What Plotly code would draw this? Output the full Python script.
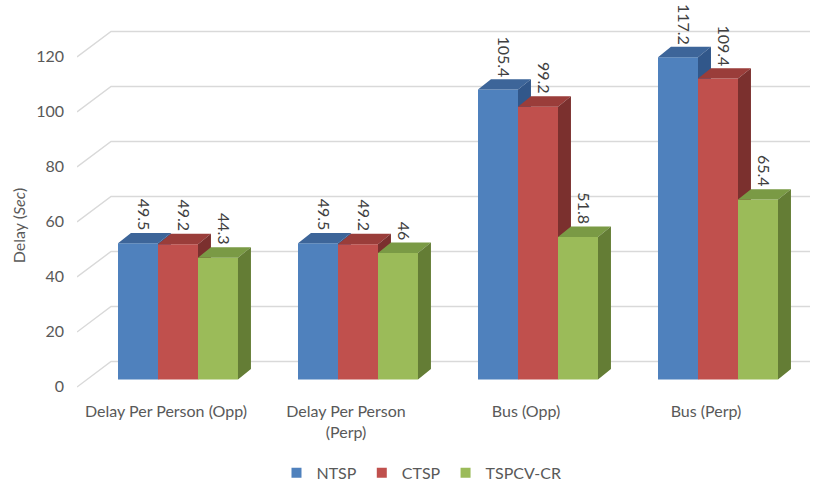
import plotly.graph_objects as go

# ---- data -------------------------------------------------------------
categories = ["Delay Per Person (Opp)", "Delay Per Person<br>(Perp)", "Bus (Opp)", "Bus (Perp)"]
series_names = ["NTSP", "CTSP", "TSPCV-CR"]
ntsp = [49.5, 49.5, 105.4, 117.2]
ctsp = [49.2, 49.2, 99.2, 109.4]
tspcv_cr = [44.3, 46, 51.8, 65.4]
y_ticks = [0, 20, 40, 60, 80, 100, 120]

# ---- styling ----------------------------------------------------------
FONT = "Lato"
front_cols = ["#4F81BD", "#C0504D", "#9BBB59"]
top_cols = ["#3D6599", "#9A3D3A", "#7A9A45"]
side_cols = ["#31578A", "#7B302E", "#647D35"]
grid_col = "#D9D9D9"

# geometry of the pseudo-3D columns (data units)
bar_w = 0.2222          # width of one column, category spacing = 1
depth_x = 0.072         # receding offset, x
depth_y = 3.8           # receding offset, y
wall_back_y = 6.55      # back wall offset above the column front plane
wall_front_y = 2.73     # left wall front edge below the column front plane
x_lo, x_hi = -0.5611, 3.5222
x_wall_back = -0.372
x_wall_end = 3.511
y_lo, y_hi = -3.82, 127.8

series = [ntsp, ctsp, tspcv_cr]

fig = go.Figure()

# back wall + left wall gridlines
gx, gy = [], []
for v in y_ticks:
    gx += [x_lo, x_wall_back, x_wall_end, None]
    gy += [v - wall_front_y, v + wall_back_y, v + wall_back_y, None]
fig.add_trace(go.Scatter(x=gx, y=gy, mode="lines", line=dict(color=grid_col, width=1.4),
                         hoverinfo="skip", showlegend=False))


def face_trace(xs, ys, color):
    return go.Scatter(x=xs, y=ys, mode="lines", fill="toself", fillcolor=color,
                      line=dict(width=0, color=color), hoverinfo="skip", showlegend=False)


for k, vals in enumerate(series):
    off = (k - 1) * bar_w
    fx, fy, tx, ty, sx, sy = [], [], [], [], [], []
    for i, v in enumerate(vals):
        x0 = i + off - bar_w / 2
        x1 = i + off + bar_w / 2
        fx += [x0, x1, x1, x0, x0, None]
        fy += [0, 0, v, v, 0, None]
        tx += [x0, x1, x1 + depth_x, x0 + depth_x, x0, None]
        ty += [v, v, v + depth_y, v + depth_y, v, None]
        sx += [x1, x1 + depth_x, x1 + depth_x, x1, x1, None]
        sy += [0, depth_y, v + depth_y, v, 0, None]
    fig.add_trace(face_trace(fx, fy, front_cols[k]))
    fig.add_trace(face_trace(tx, ty, top_cols[k]))
    fig.add_trace(face_trace(sx, sy, side_cols[k]))

# legend entries
for k, name in enumerate(series_names):
    fig.add_trace(go.Scatter(x=[None], y=[None], mode="markers", name=name,
                             marker=dict(symbol="square", size=10, color=front_cols[k])))

# value labels above each column top
for k, vals in enumerate(series):
    off = (k - 1) * bar_w
    for i, v in enumerate(vals):
        fig.add_annotation(x=i + off + depth_x / 2, y=v + depth_y / 2, text=f"{v:g}",
                           showarrow=False, textangle=90, xanchor="center", yanchor="bottom",
                           yshift=5, font=dict(family=FONT, size=16, color="#404040"))

# y axis title
fig.add_annotation(xref="paper", yref="paper", x=-0.0803, y=0.455,
                   text="Delay (<i>Sec</i>)", showarrow=False, textangle=-90,
                   xanchor="center", yanchor="middle",
                   font=dict(family=FONT, size=16, color="#595959"))

fig.update_layout(
    width=822, height=484,
    margin=dict(l=77, r=10, t=28, b=94, autoexpand=False),
    paper_bgcolor="white", plot_bgcolor="white",
    font=dict(family=FONT, color="#595959"),
    showlegend=True,
    legend=dict(orientation="h", x=0.4687, xanchor="center", y=-0.229, yanchor="middle",
                font=dict(family=FONT, size=16, color="#595959"),
                itemwidth=30, tracegroupgap=0, bgcolor="rgba(0,0,0,0)"),
    xaxis=dict(range=[x_lo, x_hi], tickmode="array",
               tickvals=[i - 0.0667 for i in range(len(categories))], ticktext=categories,
               showgrid=False, zeroline=False, showline=False, ticks="",
               ticklabelstandoff=10, automargin=False,
               tickfont=dict(family=FONT, size=16, color="#595959"), fixedrange=True),
    yaxis=dict(range=[y_lo, y_hi], tickmode="array", tickvals=y_ticks,
               showgrid=False, zeroline=False, showline=False, ticks="",
               ticklabelstandoff=12, ticklabelshift=7, automargin=False,
               tickfont=dict(family=FONT, size=16, color="#595959"), fixedrange=True),
)

fig.write_html("out.html")
